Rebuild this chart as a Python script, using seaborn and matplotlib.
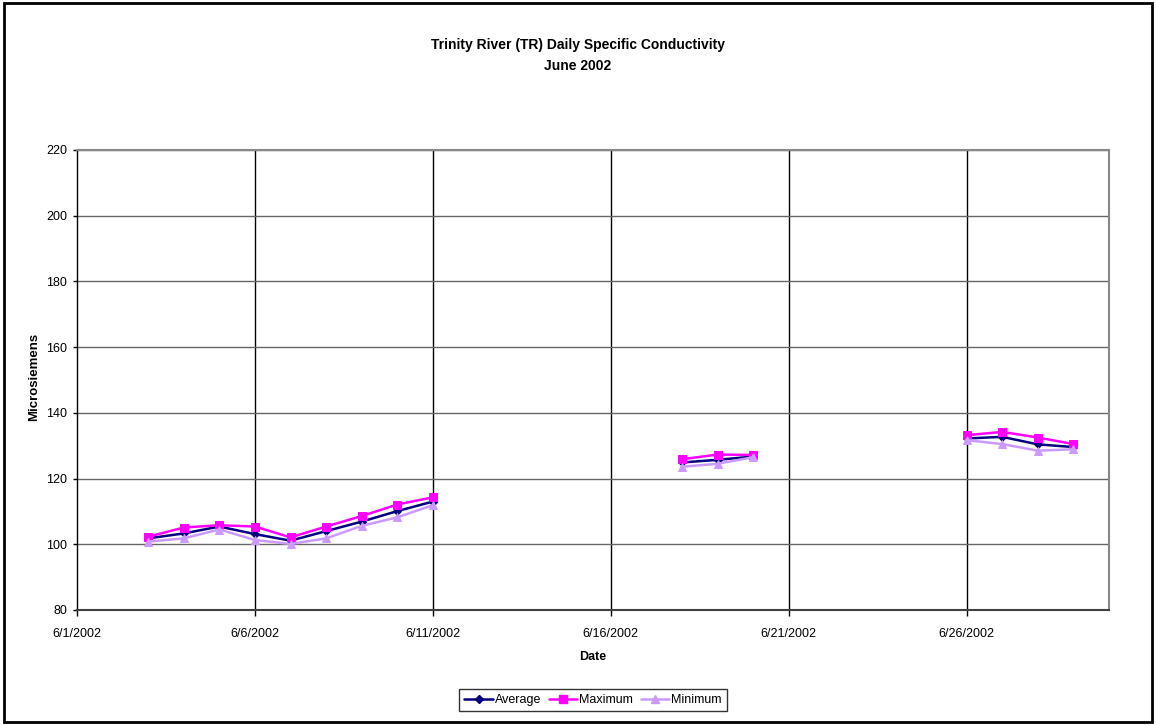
import numpy as np
import pandas as pd
import matplotlib
matplotlib.use("Agg")
import matplotlib.pyplot as plt
import matplotlib.dates as mdates
from matplotlib.lines import Line2D
from matplotlib.patches import Rectangle
import seaborn as sns

# Daily specific conductivity (microsiemens), June 2002
dates = ["2002-06-03", "2002-06-04", "2002-06-05", "2002-06-06", "2002-06-07",
         "2002-06-08", "2002-06-09", "2002-06-10", "2002-06-11",
         "2002-06-18", "2002-06-19", "2002-06-20",
         "2002-06-26", "2002-06-27", "2002-06-28", "2002-06-29"]
average = [101.8, 103.3, 105.4, 103.1, 101.1, 104.0, 106.9, 110.1, 113.0,
           124.9, 125.7, 126.7,
           132.2, 132.7, 130.4, 129.6]
maximum = [102.3, 105.1, 105.8, 105.4, 102.1, 105.4, 108.6, 112.1, 114.3,
           125.9, 127.3, 127.2,
           133.2, 134.2, 132.5, 130.5]
minimum = [100.8, 101.8, 104.5, 101.3, 100.1, 101.8, 105.6, 108.2, 111.9,
           123.6, 124.5, 126.5,
           131.7, 130.5, 128.5, 128.9]
# sampling runs (readings are contiguous within each run)
segment = [0] * 9 + [1] * 3 + [2] * 4

series_names = ["Average", "Maximum", "Minimum"]
series_values = [average, maximum, minimum]
colors = {"Average": "#000080", "Maximum": "#FF00FF", "Minimum": "#CC99FF"}
markers = {"Average": "D", "Maximum": "s", "Minimum": "^"}
msizes = {"Average": 4.5, "Maximum": 6, "Minimum": 6}

y_ticks = [80, 100, 120, 140, 160, 180, 200, 220]
x_tick_dates = ["2002-06-01", "2002-06-06", "2002-06-11", "2002-06-16",
                "2002-06-21", "2002-06-26"]

frames = []
for name, vals in zip(series_names, series_values):
    frames.append(pd.DataFrame({"Date": pd.to_datetime(dates), "Value": vals,
                                "Series": name, "Segment": segment}))
df = pd.concat(frames, ignore_index=True)

sns.set_theme(style="white")
plt.rcParams["font.family"] = ["Liberation Sans", "DejaVu Sans"]
plt.rcParams["text.color"] = "black"
plt.rcParams["xtick.color"] = "black"
plt.rcParams["ytick.color"] = "black"
plt.rcParams["axes.labelcolor"] = "black"

fig = plt.figure(figsize=(11.56, 7.25), dpi=100)
ax = fig.add_axes([77 / 1156, 1 - 610 / 725, (1109 - 77) / 1156, (610 - 150) / 725])

for z, name in enumerate(series_names):
    sub = df[df["Series"] == name]
    for seg, part in sub.groupby("Segment"):
        sns.lineplot(data=part, x="Date", y="Value", ax=ax, color=colors[name],
                     marker=markers[name], markersize=msizes[name],
                     markeredgecolor=colors[name], linewidth=1.8,
                     estimator=None, legend=False, zorder=3 + z)

ax.set_xlim(pd.Timestamp("2002-06-01"), pd.Timestamp("2002-06-30"))
ax.set_ylim(80, 220)
ax.set_yticks(y_ticks)
ax.set_xticks(pd.to_datetime(x_tick_dates))
ax.xaxis.set_major_formatter(
    matplotlib.ticker.FuncFormatter(
        lambda v, p: f"{mdates.num2date(v).month}/{mdates.num2date(v).day}/{mdates.num2date(v).year}"))

ax.grid(False)
for t in pd.to_datetime(x_tick_dates)[1:]:
    ax.axvline(t, color="black", linewidth=1, zorder=1)
for y in y_ticks[1:]:
    ax.axhline(y, color="#666666", linewidth=1, zorder=1)

for side in ["top", "right"]:
    ax.spines[side].set_color("#888888")
    ax.spines[side].set_linewidth(1.5)
ax.spines["bottom"].set_color("#404040")
ax.spines["bottom"].set_linewidth(1.5)
ax.spines["left"].set_color("black")
ax.spines["left"].set_linewidth(1)

ax.tick_params(axis="y", which="major", direction="out", length=3, width=1,
               color="black", pad=4, labelsize=9, left=True)
ax.tick_params(axis="x", which="major", direction="out", length=4, width=1,
               color="black", pad=9, labelsize=9, bottom=True)

ax.set_xlabel("Date", fontsize=9, fontweight="bold", labelpad=8)
ax.set_ylabel("")
fig.text(34 / 1156, 1 - 377 / 725, "Microsiemens", rotation=90, ha="center",
         va="center", fontsize=9.5, fontweight="bold")

fig.text(0.5, 1 - 45 / 725, "Trinity River (TR) Daily Specific Conductivity",
         ha="center", va="center", fontsize=10, fontweight="bold")
fig.text(0.5, 1 - 66 / 725, "June 2002", ha="center", va="center",
         fontsize=10, fontweight="bold")

handles = [Line2D([0], [0], color=colors[n], marker=markers[n],
                  markersize=msizes[n], linewidth=1.8, markeredgecolor=colors[n])
           for n in series_names]
leg = fig.legend(handles, series_names, loc="center",
                 bbox_to_anchor=(593 / 1156, 1 - 700 / 725), ncol=3,
                 fontsize=9, frameon=True, fancybox=False, handlelength=2.3,
                 handletextpad=0.15, columnspacing=0.6, borderpad=0.4)
leg.get_frame().set_edgecolor("black")
leg.get_frame().set_linewidth(1)

fig.patches.append(Rectangle((4 / 1156, 3 / 725), 1148 / 1156, 719 / 725,
                             transform=fig.transFigure, fill=False,
                             edgecolor="black", linewidth=2))

fig.savefig("out.png", dpi=100)
